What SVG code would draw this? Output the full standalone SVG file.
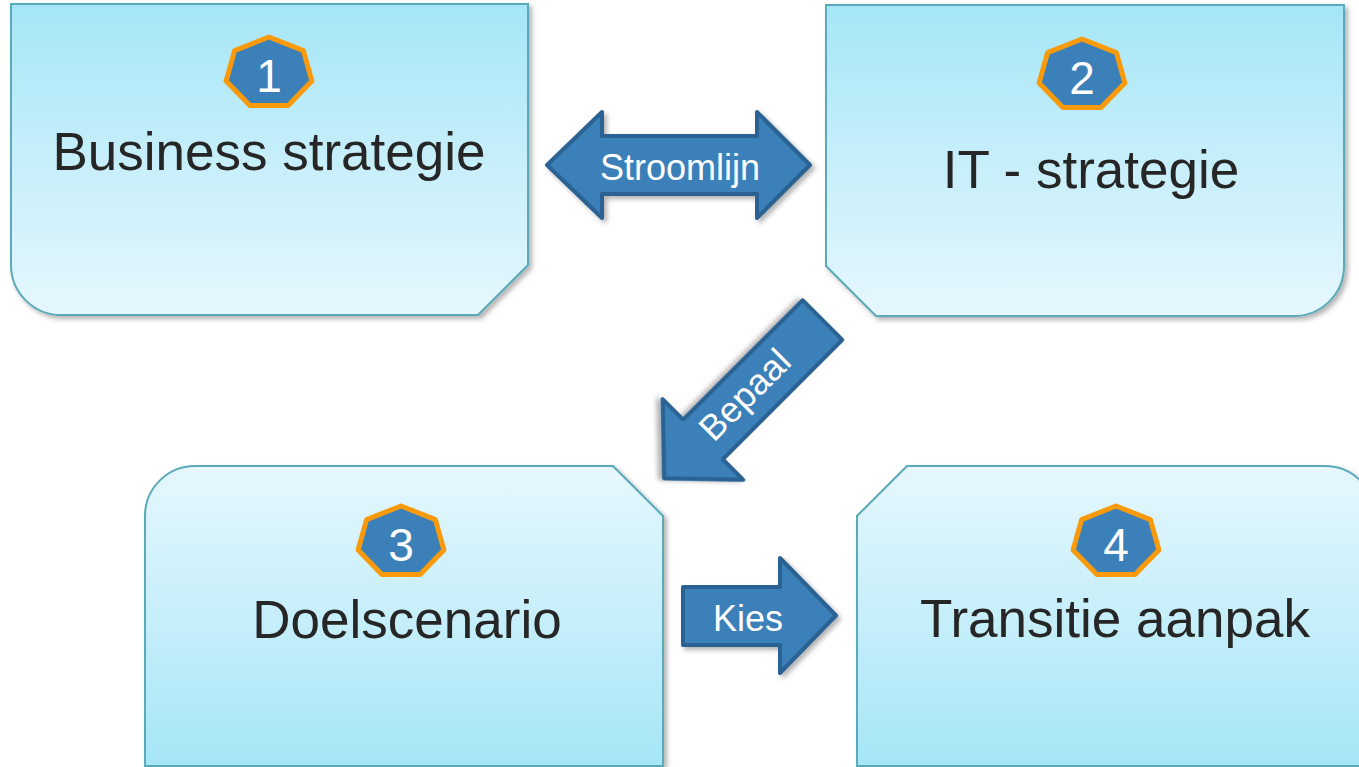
<svg xmlns="http://www.w3.org/2000/svg" xmlns:xlink="http://www.w3.org/1999/xlink" width="1359" height="767" viewBox="0 0 1359 767">
<defs>
<linearGradient id="gDown" x1="0" y1="0" x2="0" y2="1">
<stop offset="0" stop-color="#a6e6f7"/>
<stop offset="1" stop-color="#e6f7fd"/>
</linearGradient>
<linearGradient id="gUp" x1="0" y1="0" x2="0" y2="1">
<stop offset="0" stop-color="#e6f7fd"/>
<stop offset="1" stop-color="#a6e6f7"/>
</linearGradient>
<filter id="sh" x="-10%" y="-10%" width="125%" height="125%">
<feDropShadow dx="3" dy="3" stdDeviation="2.5" flood-color="#000" flood-opacity="0.3"/>
</filter>
<polygon id="hept" points="0,-36 34.4,-22.4 42.9,8 19.1,32.4 -19.1,32.4 -42.9,8 -34.4,-22.4"/>
</defs>
<style>
.box{stroke:#5aaab9;stroke-width:2;filter:url(#sh)}
.badge{fill:#3b80b9;stroke:#f99a0c;stroke-width:5;stroke-linejoin:round}
.num{font-family:"Liberation Sans",Arial,sans-serif;font-size:46px;fill:#fff;text-anchor:middle}
.title{font-family:"Liberation Sans",Arial,sans-serif;font-size:53px;fill:#262626;text-anchor:middle}
.arrow{fill:#3b80b9;stroke:#2b6293;stroke-width:4;stroke-linejoin:round;filter:url(#sh)}
.lbl{font-family:"Liberation Sans",Arial,sans-serif;font-size:36px;fill:#fff;text-anchor:middle}
</style>
<rect width="1359" height="767" fill="#fff"/>

<g id="node1">
<path class="box" fill="url(#gDown)" d="M11,4 H528 V265 L478,315 H61 A50,50 0 0 1 11,265 Z"/>
<use xlink:href="#hept" class="badge" x="269" y="73"/>
<text class="num" x="269" y="92">1</text>
<text class="title" x="269" y="170">Business strategie</text>
</g>

<g id="node2">
<path class="box" fill="url(#gDown)" d="M826,5 H1344 V266 A50,50 0 0 1 1294,316 H876 L826,266 Z"/>
<use xlink:href="#hept" class="badge" x="1082" y="75"/>
<text class="num" x="1082" y="94">2</text>
<text class="title" x="1091" y="188">IT - strategie</text>
</g>

<g id="node3">
<path class="box" fill="url(#gUp)" d="M195,466 H613 L663,516 V766 H145 V516 A50,50 0 0 1 195,466 Z"/>
<use xlink:href="#hept" class="badge" x="401" y="542"/>
<text class="num" x="401" y="561">3</text>
<text class="title" x="407" y="638">Doelscenario</text>
</g>

<g id="node4">
<path class="box" fill="url(#gUp)" d="M907,466 H1325 A50,50 0 0 1 1375,516 V766 H857 V516 Z"/>
<use xlink:href="#hept" class="badge" x="1116" y="542"/>
<text class="num" x="1116" y="561">4</text>
<text class="title" x="1115" y="637">Transitie aanpak</text>
</g>

<g id="connectors">
<g id="stroomlijn">
<path class="arrow" d="M547,165 L602,112 V136 H757 V112 L810,165 L757,218 V194 H602 V218 Z"/>
<text class="lbl" x="680" y="180">Stroomlijn</text>
</g>
<g id="bepaal">
<path class="arrow" transform="translate(822.5,320) rotate(135)" d="M0,-28 H169 V-57 L224,0 L169,57 V28 H0 Z"/>
<text class="lbl" transform="translate(745,395) rotate(-45)" x="0" y="12">Bepaal</text>
</g>
<g id="kies">
<path class="arrow" d="M683,587 H780 V558 L836,615.5 L780,673 V645 H683 Z"/>
<text class="lbl" x="748" y="631">Kies</text>
</g>
</g>
</svg>
